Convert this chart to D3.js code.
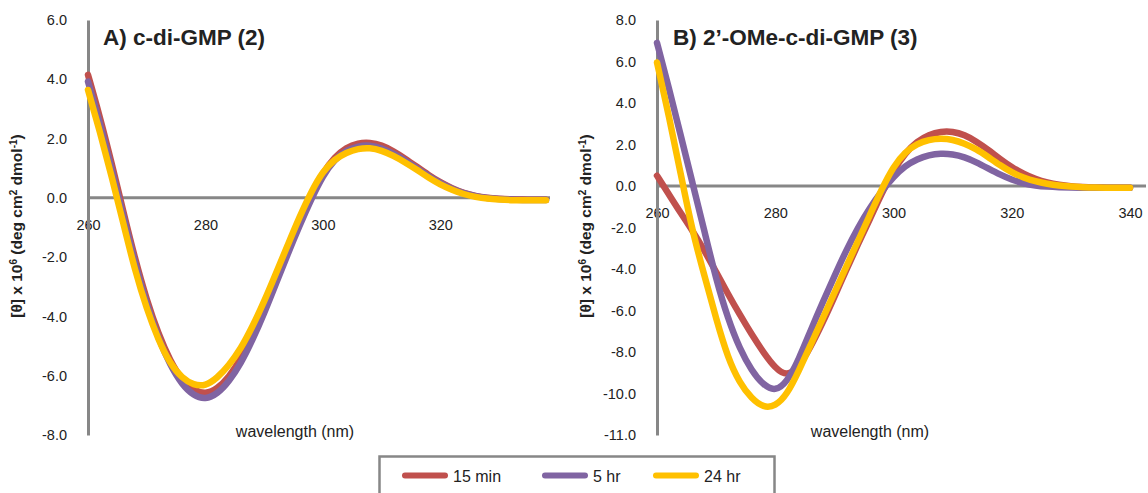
<!DOCTYPE html>
<html>
<head>
<meta charset="utf-8">
<script src="https://cdn.jsdelivr.net/npm/d3@7"></script>
<style>
  body { margin: 0; background: #ffffff; }
  svg { display: block; }
  text { font-family: "Liberation Sans", Arial, sans-serif; fill: #222; }
</style>
</head>
<body>
<svg id="chart" width="1148" height="493"></svg>
<script>
// ---- Panel A: c-di-GMP (2) ----
const wavelengthsA = [260, 262, 264, 266, 268, 270, 272, 274, 276, 278, 280, 282, 284, 286, 288, 290, 292, 294, 296, 298,
                      300, 302, 304, 306, 308, 310, 312, 314, 316, 318, 320, 322, 324, 326, 328, 330, 332, 334, 336, 338];
const cdgA_15min = [4.15, 2.75, 1.2, -0.45, -2.05, -3.45, -4.6, -5.5, -6.15, -6.5, -6.62, -6.45, -6.05, -5.45, -4.65, -3.75, -2.75, -1.75, -0.8, 0.1,
                    0.85, 1.38, 1.7, 1.85, 1.87, 1.78, 1.58, 1.33, 1.05, 0.77, 0.52, 0.32, 0.16, 0.06, 0.0, -0.03, -0.05, -0.06, -0.06, -0.06];
const cdgA_5hr = [3.92, 2.55, 1.0, -0.6, -2.2, -3.6, -4.75, -5.65, -6.3, -6.68, -6.8, -6.62, -6.2, -5.6, -4.8, -3.9, -2.9, -1.9, -0.95, -0.05,
                  0.75, 1.3, 1.6, 1.75, 1.78, 1.68, 1.5, 1.27, 1.0, 0.73, 0.5, 0.3, 0.15, 0.05, -0.01, -0.04, -0.06, -0.07, -0.07, -0.07];
const cdgA_24hr = [3.64, 2.25, 0.75, -0.85, -2.45, -3.75, -4.8, -5.6, -6.08, -6.32, -6.35, -6.08, -5.65, -5.1, -4.35, -3.5, -2.55, -1.6, -0.65, 0.2,
                   0.9, 1.3, 1.53, 1.66, 1.69, 1.6, 1.42, 1.2, 0.95, 0.68, 0.45, 0.27, 0.12, 0.03, -0.03, -0.06, -0.08, -0.08, -0.08, -0.08];

// ---- Panel B: 2'-OMe-c-di-GMP (3) ----
const wavelengthsB = [260, 262, 264, 266, 268, 270, 272, 274, 276, 278, 280, 282, 284, 286, 288, 290, 292, 294, 296, 298,
                      300, 302, 304, 306, 308, 310, 312, 314, 316, 318, 320, 322, 324, 326, 328, 330, 332, 334, 336, 338, 340];
const omeB_15min = [0.5, -0.4, -1.3, -2.15, -3.1, -4.15, -5.2, -6.2, -7.15, -8.02, -8.78, -9.18, -8.72, -7.75, -6.6, -5.35, -4.05, -2.8, -1.6, -0.35,
                    0.75, 1.6, 2.15, 2.47, 2.63, 2.63, 2.47, 2.15, 1.75, 1.3, 0.9, 0.58, 0.33, 0.16, 0.05, -0.02, -0.05, -0.07, -0.08, -0.08, -0.08];
const omeB_5hr = [6.9, 4.75, 2.45, 0.15, -2.15, -4.5, -6.4, -7.85, -8.9, -9.6, -9.9, -9.45, -8.35, -6.95, -5.62, -4.35, -3.1, -2.0, -1.05, -0.25,
                  0.45, 0.98, 1.3, 1.5, 1.57, 1.54, 1.4, 1.15, 0.85, 0.55, 0.3, 0.12, 0.02, -0.03, -0.06, -0.08, -0.09, -0.09, -0.09, -0.09, -0.09];
const omeB_24hr = [5.95, 3.4, 0.6, -2.2, -4.3, -6.4, -8.3, -9.5, -10.25, -10.68, -10.62, -10.05, -8.9, -7.65, -6.4, -5.15, -3.9, -2.65, -1.4, -0.15,
                   0.95, 1.65, 2.04, 2.23, 2.29, 2.24, 2.05, 1.78, 1.4, 1.0, 0.65, 0.4, 0.22, 0.1, 0.02, -0.03, -0.06, -0.08, -0.08, -0.08, -0.08];

// ---- Shared series, ticks and labels ----
const seriesNames = ["15 min", "5 hr", "24 hr"];
const seriesColors = ["#C0504D", "#8064A2", "#FFC000"];

const xTicksA = [260, 280, 300, 320];
const xTicksB = [260, 280, 300, 320, 340];
const yTicksA = [-8, -6, -4, -2, 0, 2, 4, 6];
const yTickLabelsA = ["-8.0", "-6.0", "-4.0", "-2.0", "0.0", "2.0", "4.0", "6.0"];
const yTicksB = [-12, -10, -8, -6, -4, -2, 0, 2, 4, 6, 8];
const yTickLabelsB = ["-11.0", "-10.0", "-8.0", "-6.0", "-4.0", "-2.0", "0.0", "2.0", "4.0", "6.0", "8.0"];

const titleA = "A) c-di-GMP (2)";
const titleB = "B) 2\u2019-OMe-c-di-GMP (3)";
const xAxisTitle = "wavelength (nm)";

// ---- Layout ----
const svg = d3.select("#chart");
const AXIS_GREY = "#878787";
const FONT = '"Liberation Sans", Arial, sans-serif';

const panels = [
  {
    wl: wavelengthsA, series: [cdgA_15min, cdgA_5hr, cdgA_24hr],
    xDomain: [260, 338], xRange: [88, 546], axisEnd: 550,
    yDomain: [-8, 6], yRange: [435, 20],
    xTicks: xTicksA, yTicks: yTicksA, yLabels: yTickLabelsA,
    title: titleA, titleX: 103, yTitleX: 22, wlLabelX: 295
  },
  {
    wl: wavelengthsB, series: [omeB_15min, omeB_5hr, omeB_24hr],
    xDomain: [260, 340], xRange: [657, 1130], axisEnd: 1146,
    yDomain: [-12, 8], yRange: [435, 20],
    xTicks: xTicksB, yTicks: yTicksB, yLabels: yTickLabelsB,
    title: titleB, titleX: 673, yTitleX: 591, wlLabelX: 870
  }
];

panels.forEach(p => {
  const x = d3.scaleLinear().domain(p.xDomain).range(p.xRange);
  const y = d3.scaleLinear().domain(p.yDomain).range(p.yRange);
  const g = svg.append("g");

  // horizontal wavelength axis through zero (labels sit under the value axis line)
  const xAxis = d3.axisBottom(x)
    .tickValues(p.xTicks)
    .tickSize(0)
    .tickPadding(22)
    .tickFormat(d3.format("d"));
  const xg = g.append("g").attr("transform", `translate(0,${y(0)})`).call(xAxis);
  xg.select(".domain").remove();
  xg.insert("line", ":first-child")
    .attr("x1", x(p.xDomain[0])).attr("x2", p.axisEnd)
    .attr("stroke", AXIS_GREY).attr("stroke-width", 3);
  xg.selectAll(".tick text").attr("fill", "#222").style("font-size", "14.5px").style("font-family", FONT);

  // vertical value axis
  const yAxis = d3.axisLeft(y)
    .tickValues(p.yTicks)
    .tickSize(0)
    .tickPadding(21)
    .tickFormat((d, i) => p.yLabels[i]);
  const yg = g.append("g").attr("transform", `translate(${x(p.xDomain[0])},0)`).call(yAxis);
  yg.select(".domain").attr("stroke", AXIS_GREY).attr("stroke-width", 3);
  yg.selectAll(".tick text").attr("fill", "#222").style("font-size", "14.5px").style("font-family", FONT);

  // CD spectra
  const line = d3.line()
    .x(d => x(d[0]))
    .y(d => y(d[1]))
    .curve(d3.curveBasis);
  p.series.forEach((vals, i) => {
    g.append("path")
      .datum(p.wl.map((w, k) => [w, vals[k]]))
      .attr("d", line)
      .attr("fill", "none")
      .attr("stroke", seriesColors[i])
      .attr("stroke-width", 6.5)
      .attr("stroke-linecap", "round")
      .attr("stroke-linejoin", "round");
  });

  // panel title
  g.append("text")
    .attr("x", p.titleX).attr("y", 45)
    .style("font-size", "22.5px").style("font-weight", "bold")
    .attr("fill", "#111")
    .text(p.title);

  // y-axis title with superscripts
  const yt = g.append("text")
    .attr("transform", `translate(${p.yTitleX},226) rotate(-90)`)
    .attr("text-anchor", "middle")
    .style("font-size", "15.5px").style("font-weight", "bold");
  const parts = [["[\u03B8] x 10", false], ["6", true], [" (deg cm", false], ["2", true], [" dmol", false], ["-1", true], [")", false]];
  parts.forEach(([t, sup], i) => {
    const prevSup = i > 0 && parts[i - 1][1];
    yt.append("tspan")
      .attr("dy", sup ? -5.5 : (prevSup ? 5.5 : 0))
      .style("font-size", sup ? "10px" : "15.5px")
      .text(t);
  });

  // x-axis title
  g.append("text")
    .attr("x", p.wlLabelX).attr("y", 437)
    .attr("text-anchor", "middle")
    .style("font-size", "16px")
    .text(xAxisTitle);
});

// ---- Legend ----
const legendX = [402, 542, 653];
const legend = svg.append("g");
legend.append("rect")
  .attr("x", 379.5).attr("y", 456.5).attr("width", 395).attr("height", 60)
  .attr("fill", "#fff").attr("stroke", AXIS_GREY).attr("stroke-width", 2.5);
const entries = legend.selectAll("g.entry").data(seriesNames).join("g")
  .attr("class", "entry")
  .attr("transform", (d, i) => `translate(${legendX[i]},475.5)`);
entries.append("line")
  .attr("x1", 3).attr("x2", 43)
  .attr("stroke", (d, i) => seriesColors[i])
  .attr("stroke-width", 6).attr("stroke-linecap", "round");
entries.append("text")
  .attr("x", 51).attr("y", 6)
  .style("font-size", "16px")
  .text(d => d);
</script>
</body>
</html>
